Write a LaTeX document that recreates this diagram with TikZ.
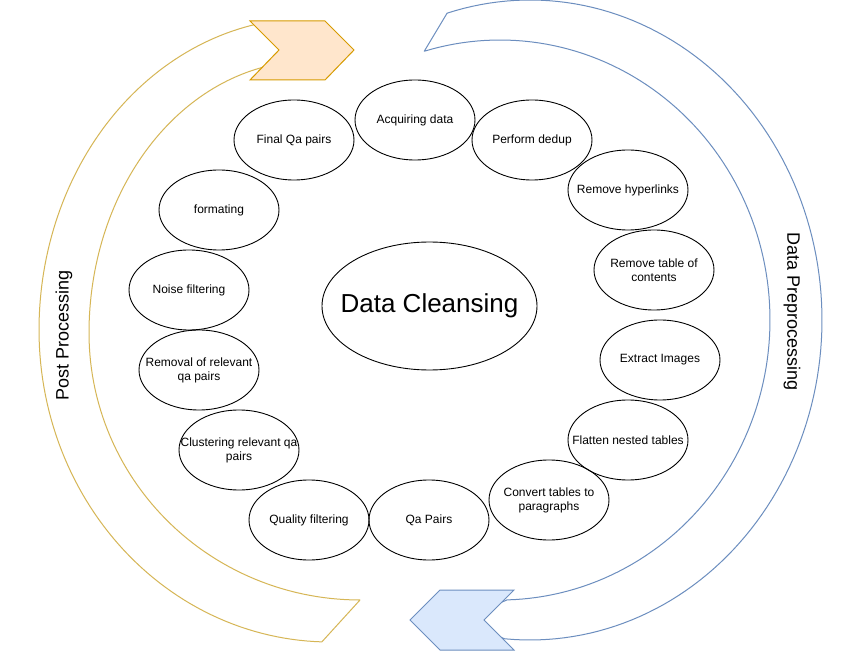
\documentclass[tikz,border=0pt]{standalone}
\usepackage{fontspec}
\setmainfont{Liberation Sans}
\usetikzlibrary{shapes.geometric}
\definecolor{orfill}{HTML}{FFE6CC}
\definecolor{orstroke}{HTML}{D79B00}
\definecolor{goldline}{HTML}{D6B656}
\definecolor{blfill}{HTML}{DAE8FC}
\definecolor{blstroke}{HTML}{6C8EBF}
\tikzset{
  stepbubble/.style={ellipse, draw=black, line width=0.9pt, minimum width=120pt, minimum height=80pt,
    inner xsep=-45pt, inner ysep=0pt, align=center, font=\fontsize{12}{14}\selectfont},
  bigbubble/.style={ellipse, draw=black, line width=0.9pt, minimum width=215pt, minimum height=128pt,
    inner xsep=-80pt, inner ysep=0pt, font=\fontsize{26}{30}\selectfont},
  sidelabel/.style={font=\fontsize{18}{22}\selectfont, inner sep=0pt},
  goldband/.style={draw=goldline, line width=1pt, line join=round},
  blueband/.style={draw=blstroke, line width=1pt, line join=round},
  orchev/.style={draw=orstroke, fill=orfill, line width=1pt, line join=miter},
  blchev/.style={draw=blstroke, fill=blfill, line width=1pt, line join=miter}
}
\begin{document}
\begin{tikzpicture}[x=1pt, y=-1pt]
\useasboundingbox (0,0) rectangle (860,652);
\fill[white] (0,0) rectangle (860,652);

% orange (post processing) band, its top end hidden under the chevron
\draw[goldband]
  plot[domain=258.7:180, samples=60] ({310+271*cos(\x)}, {330+312*sin(\x)})
  -- plot[domain=180:91.6, samples=60] ({330+291*cos(\x)}, {330+312*sin(\x)})
  -- plot[domain=90:180, samples=60] ({360+271*cos(\x)}, {333+267*sin(\x)})
  -- plot[domain=180:257.2, samples=60] ({310+221*cos(\x)}, {333+272*sin(\x)})
  -- (305,50) -- cycle;
% blue (data preprocessing) band, its bottom end hidden under the chevron
\draw[blueband]
  plot[domain=253.5:455, samples=120] ({530+292*cos(\x)}, {320+320*sin(\x)})
  -- (460,620)
  -- plot[domain=448.5:253.7, samples=120] ({500+270*cos(\x)}, {320+280*sin(\x)})
  -- cycle;

% chevrons
\draw[orchev] (250,21) -- (325,21) -- (354,50) -- (325,80) -- (250,80) -- (279,50) -- cycle;
\draw[blchev] (440,590) -- (514,590) -- (484,620) -- (514,650) -- (440,650) -- (410,620) -- cycle;

% side labels
\node[sidelabel, rotate=90] (post) at (64,335) {Post Processing};
\node[sidelabel, rotate=-90] (pre) at (792,312) {Data Preprocessing};

% centre
\node[bigbubble] (dc) at (429.5,306) {Data Cleansing};

% steps
\node[stepbubble] (acq) at (415,120) {Acquiring data};
\node[stepbubble] (dedup) at (532,140) {Perform dedup};
\node[stepbubble] (hyper) at (628,190) {Remove hyperlinks};
\node[stepbubble] (toc) at (654,270) {Remove table of\\contents};
\node[stepbubble] (img) at (660,360) {Extract Images};
\node[stepbubble] (flat) at (628,440) {Flatten nested tables};
\node[stepbubble] (conv) at (549,500) {Convert tables to\\paragraphs};
\node[stepbubble] (qap) at (429,520) {Qa Pairs};
\node[stepbubble] (qual) at (309,520) {Quality filtering};
\node[stepbubble] (clus) at (239,450) {Clustering relevant qa\\pairs};
\node[stepbubble] (remv) at (199,370) {Removal of relevant\\qa pairs};
\node[stepbubble] (noise) at (189,290) {Noise filtering};
\node[stepbubble] (fmt) at (219,210) {formating};
\node[stepbubble] (final) at (294,140) {Final Qa pairs};
\end{tikzpicture}
\end{document}
